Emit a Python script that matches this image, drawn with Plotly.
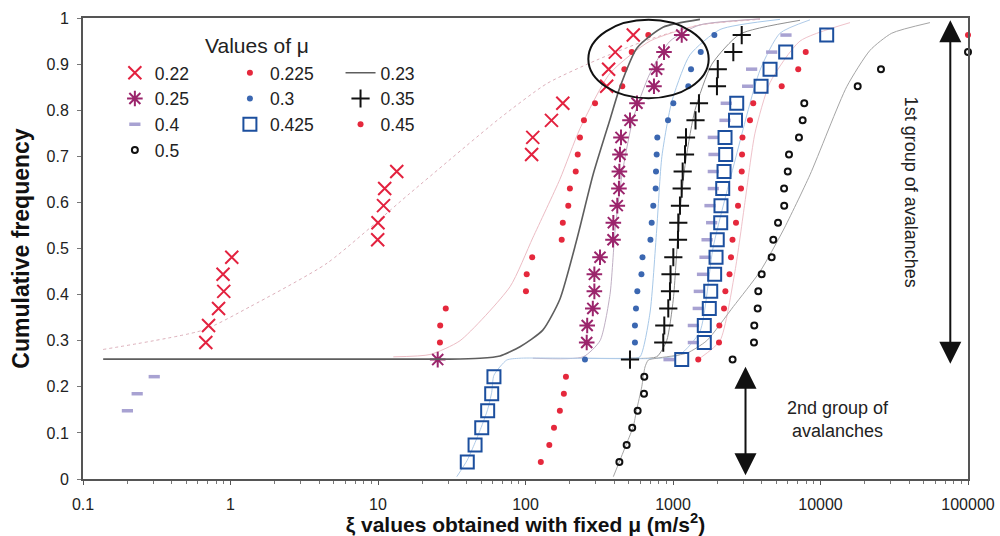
import plotly.graph_objects as go

# ---------------- data ----------------
LEVELS = [0.037, 0.074, 0.111, 0.148, 0.185, 0.222, 0.259, 0.296, 0.333, 0.370,
          0.407, 0.444, 0.481, 0.519, 0.556, 0.593, 0.630, 0.667, 0.704, 0.741,
          0.778, 0.815, 0.852, 0.889, 0.926, 0.963]

LOWER = LEVELS[0:6]      # 2nd group of avalanches
UPPER = LEVELS[6:26]     # 1st group of avalanches

mu022_x = [0.68, 0.71, 0.83, 0.90, 0.89, 1.02, 9.95, 10.0, 10.9, 11.1, 13.4,
           110, 112, 150, 179, 355, 366, 406, 538]
mu022_y = LEVELS[7:26]

mu0225_x = [26.3, 26.4, 28.8, 100.7, 101.9, 111, 176, 179, 195, 200, 219, 226,
            234, 249, 296, 453, 468, 525, 680]
mu0225_y = LEVELS[7:26]

mu025_x = [25.4, 260, 262, 286, 293, 293, 320, 392, 394, 419, 430, 433, 437,
           444, 511, 570, 743, 775, 869, 1146]
mu025_y = UPPER

mu03_x = [253, 552, 552, 561, 573, 611, 621, 703, 717, 735, 763, 767, 775, 783,
          925, 1005, 1270, 1325, 1542, 1907]
mu03_y = UPPER

mu035_x = [511, 859, 873, 929, 954, 962, 1005, 1081, 1086, 1115, 1145, 1163,
           1206, 1225, 1421, 1500, 1986, 2012, 2564, 2924]
mu035_y = UPPER

mu04_x = [0.20, 0.233, 0.304,
          940, 1374, 1374, 1483, 1508, 1585, 1648, 1702, 1828, 1782, 1876, 1876,
          1897, 1876, 2253, 2296, 3206, 3412, 4667, 5834]
mu04_y = LEVELS[3:6] + UPPER

mu0425_x = [40.3, 45.5, 50.5, 55.4, 59.0, 61.1,
            1146, 1630, 1630, 1762, 1802, 1916, 1958, 1995, 2106, 2115, 2173,
            2218, 2276, 2253, 2653, 2704, 3954, 4548, 5808, 11015]
mu0425_y = LOWER + UPPER

mu045_x = [127, 145, 156, 171, 182, 188,
           1483, 2051, 2061, 2218, 2265, 2416, 2472, 2531, 2673, 2759, 2891,
           2924, 2938, 2958, 3326, 3499, 5458, 7063, 7940, 100000]
mu045_y = LOWER + UPPER

mu05_x = [433, 485, 529, 576, 636, 639,
          2535, 3540, 3557, 3750, 3786, 3992, 4667, 4786, 5152, 5675, 5663, 5998,
          6115, 7144, 7568, 7762, 17870, 25700, 100000]
mu05_y = LOWER + LEVELS[6:25]

# fitted curves
c023_x = [0.137, 30.8, 49.2, 67.2, 91.8, 131, 171, 223, 287, 374, 437, 570, 855, 1523]
c023_y = [0.26, 0.26, 0.262, 0.267, 0.287, 0.323, 0.39, 0.52, 0.66, 0.78, 0.85, 0.935, 0.98, 0.997]

c022_x = [0.137, 0.652, 1.36, 4.51, 16.5, 67.2, 140, 305, 667, 1523, 3890]
c022_y = [0.281, 0.323, 0.374, 0.468, 0.62, 0.783, 0.858, 0.909, 0.952, 0.985, 0.997]

c0225_x = [12.7, 22.5, 36, 78.5, 112, 171, 234, 374, 698, 1523, 3890]
c0225_y = [0.265, 0.27, 0.30, 0.417, 0.523, 0.65, 0.76, 0.88, 0.95, 0.985, 0.998]

c025_x = [112, 246, 320, 374, 405, 451, 535, 698, 955, 1523, 3890]
c025_y = [0.262, 0.265, 0.30, 0.40, 0.54, 0.66, 0.78, 0.88, 0.95, 0.985, 0.998]

c03_x = [253, 511, 597, 698, 775, 841, 984, 1303, 2084, 5312]
c03_y = [0.262, 0.262, 0.265, 0.36, 0.54, 0.70, 0.82, 0.92, 0.975, 0.997]

c035_x = [511, 775, 906, 1005, 1086, 1206, 1409, 1836, 2843, 7263]
c035_y = [0.262, 0.265, 0.30, 0.39, 0.54, 0.68, 0.80, 0.90, 0.965, 0.995]

c0425_x = [34.2, 40.3, 45.5, 50.5, 55.4, 59.0, 61.1, 74.6, 91.8, 817, 1115, 1523,
           1875, 2565, 3890, 5312, 8489]
c0425_y = [0.005, 0.041, 0.079, 0.115, 0.151, 0.188, 0.225, 0.258, 0.262, 0.262,
           0.27, 0.32, 0.504, 0.677, 0.887, 0.967, 0.996]

c045_x = [1523, 2084, 2630, 3073, 3594, 4548, 7263, 15850]
c045_y = [0.262, 0.30, 0.45, 0.60, 0.75, 0.86, 0.95, 0.99]

c05_x = [394, 485, 538, 567, 614, 646, 680, 775, 1239, 1693, 2565, 3890, 5598,
         8489, 15060, 21680, 30410, 55200]
c05_y = [0.005, 0.077, 0.114, 0.15, 0.20, 0.243, 0.258, 0.262, 0.273, 0.30, 0.374,
         0.45, 0.54, 0.66, 0.851, 0.93, 0.967, 0.99]

x_tickvals = [0.1, 1, 10, 100, 1000, 10000, 100000]
x_ticktext = ["0.1", "1", "10", "100", "1000", "10000", "100000"]

FONT = "Liberation Sans, Arial, sans-serif"

fig = go.Figure()

# ---- thin fitted curves ----
def curve(x, y, color, width=1.0, dash="solid"):
    fig.add_trace(go.Scatter(x=x, y=y, mode="lines", showlegend=False,
                             line=dict(color=color, width=width, dash=dash, shape="spline", smoothing=0.6),
                             hoverinfo="skip"))

curve(c022_x, c022_y, "#ddb0bb", 1.0, "dot")
curve(c0225_x, c0225_y, "#ecbcc4", 1.0)
curve(c025_x, c025_y, "#c0afc4", 1.0)
curve(c03_x, c03_y, "#a7c8e8", 1.0)
curve(c035_x, c035_y, "#8f8f8f", 1.0)
curve(c0425_x, c0425_y, "#b0cbe8", 1.0)
curve(c045_x, c045_y, "#efc2ca", 1.0)
curve(c05_x, c05_y, "#a5a5a5", 1.0)

# ---- markers ----
def pts(x, y, name, legend, symbol, color, size, lw=0, cliponaxis=True):
    fig.add_trace(go.Scatter(
        x=x, y=y, mode="markers", name=name, legend=legend, cliponaxis=cliponaxis,
        marker=dict(symbol=symbol, color=color, size=size,
                    line=dict(color=color, width=lw))))

# column 1
pts(mu022_x, mu022_y, "0.22", "legend", "x-thin-open", "#e3223f", 13, 2)
pts(mu025_x, mu025_y, "0.25", "legend", "asterisk-open", "#9b256c", 13, 2)
pts(mu04_x, mu04_y, "0.4", "legend", "line-ew-open", "#a8a2d2", 8, 3.5)
pts(mu05_x, mu05_y, "0.5", "legend", "circle-open", "#111111", 6, 2, False)
# column 2
pts(mu0225_x, mu0225_y, "0.225", "legend2", "circle", "#e5283c", 6)
pts(mu03_x, mu03_y, "0.3", "legend2", "circle", "#3b67b1", 6)
pts(mu0425_x, mu0425_y, "0.425", "legend2", "square-open", "#1c4f9e", 13, 2)
# column 3
fig.add_trace(go.Scatter(x=c023_x, y=c023_y, mode="lines", name="0.23", legend="legend3",
                         line=dict(color="#5e5e5e", width=1.6, shape="spline", smoothing=0.6)))
pts(mu035_x, mu035_y, "0.35", "legend3", "cross-thin-open", "#111111", 13, 2)
pts(mu045_x, mu045_y, "0.45", "legend3", "circle", "#e5283c", 6, 0, False)

legend_common = dict(font=dict(family=FONT, size=17.5, color="#222"), bgcolor="rgba(0,0,0,0)",
                     yanchor="top", xanchor="left", tracegroupgap=0, orientation="v")

fig.update_layout(
    width=1000, height=536,
    margin=dict(l=83, r=32, t=18, b=57, autoexpand=False),
    paper_bgcolor="white", plot_bgcolor="white",
    font=dict(family=FONT, color="#222"),
    legend=dict(x=0.036, y=0.92, **legend_common),
    legend2=dict(x=0.166, y=0.92, **legend_common),
    legend3=dict(x=0.291, y=0.92, **legend_common),
    xaxis=dict(type="log", range=[-1, 5], tickvals=x_tickvals, ticktext=x_ticktext,
               automargin=False, ticklabelstandoff=6,
               showgrid=False, zeroline=False, showline=True, linecolor="#555", linewidth=2,
               mirror=True, ticks="outside", ticklen=4, tickcolor="#555",
               minor=dict(ticks="outside", ticklen=3, dtick="D1", tickcolor="#777", showgrid=False),
               tickfont=dict(family=FONT, size=16, color="#222"),
               title=dict(text="ξ values obtained with fixed μ (m/s<sup>2</sup>)",
                          font=dict(family=FONT, size=21, color="#111", weight="bold"), standoff=0)),
    yaxis=dict(range=[0, 1], dtick=0.1, showgrid=False, zeroline=False, showline=True,
               automargin=False, ticklabelstandoff=5,
               linecolor="#555", linewidth=2, mirror=True, ticks="outside", ticklen=4,
               tickcolor="#777", tickfont=dict(family=FONT, size=16, color="#222"),
               title=dict(text="Cumulative frequency",
                          font=dict(family=FONT, size=23, color="#111", weight="bold"), standoff=10)),
)

# legend title
fig.add_annotation(text="Values of μ", xref="paper", yref="paper", x=0.197, y=0.941,
                   xanchor="center", yanchor="middle",
                   showarrow=False, font=dict(family=FONT, size=21, color="#222"))

# ellipse around the highlighted points
fig.add_shape(type="circle", xref="paper", yref="paper", x0=0.571, x1=0.707, y0=0.826, y1=0.996,
              line=dict(color="#111", width=2))

# double arrows
fig.add_annotation(xref="paper", yref="paper", x=0.980, y=0.995, ax=0, ay=345, text="",
                   showarrow=True, arrowside="end+start", arrowhead=2, startarrowhead=2,
                   arrowsize=2.2, startarrowsize=2.2, arrowwidth=2, arrowcolor="#111")
fig.add_annotation(xref="paper", yref="paper", x=0.7486, y=0.2436, ax=0, ay=110, text="",
                   showarrow=True, arrowside="end+start", arrowhead=2, startarrowhead=2,
                   arrowsize=2.2, startarrowsize=2.2, arrowwidth=2, arrowcolor="#111")

fig.add_annotation(text="1st group of avalanches", xref="paper", yref="paper", x=0.936, y=0.6226,
                   xanchor="center", yanchor="middle",
                   textangle=90, showarrow=False, font=dict(family=FONT, size=18, color="#222"))
fig.add_annotation(text="2nd group of<br>avalanches", xref="paper", yref="paper", x=0.853, y=0.128,
                   xanchor="center", yanchor="middle",
                   showarrow=False, font=dict(family=FONT, size=18, color="#222"))

fig.write_html("out.html")
